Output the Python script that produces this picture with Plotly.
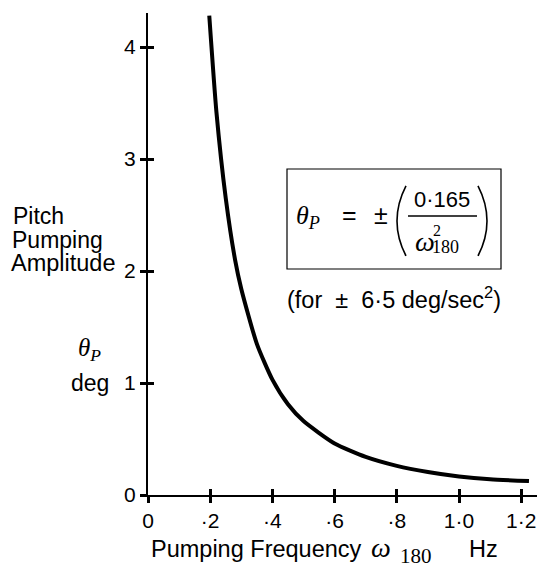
import plotly.graph_objects as go

# Data
freq_hz = [0.197, 0.22, 0.25, 0.28, 0.30, 0.35, 0.40, 0.45, 0.50, 0.60, 0.70, 0.80, 0.90, 1.00, 1.10, 1.225]
amplitude_deg = [4.28, 3.42, 2.65, 2.10, 1.84, 1.35, 1.03, 0.81, 0.66, 0.46, 0.34, 0.26, 0.205, 0.165, 0.14, 0.125]

x_tick_vals = [0, 0.2, 0.4, 0.6, 0.8, 1.0, 1.2]
x_tick_text = ["0", "·2", "·4", "·6", "·8", "1·0", "1·2"]
y_tick_vals = [0, 1, 2, 3, 4]
y_tick_text = ["0", "1", "2", "3", "4"]

# layout geometry (pixels)
W, H = 537, 571
L, R, T, B = 148, 0, 13, 76
PW, PH = W - L - R, H - T - B
XMAX = PW / 311.0
YMAX = PH / 112.0

SANS = "Liberation Sans, Arial, Helvetica, sans-serif"
SERIF = "Liberation Serif, Times New Roman, serif"

def fx(x):
    return (x - L) / PW

def fy(y):
    return (H - B - y) / PH

fig = go.Figure()
fig.add_trace(go.Scatter(x=freq_hz, y=amplitude_deg, mode="lines",
                         line=dict(color="black", width=4, shape="spline", smoothing=0.6),
                         hoverinfo="skip", showlegend=False))
# dummy trace for the overlay axes (inner half of tick marks)
fig.add_trace(go.Scatter(x=[None], y=[None], xaxis="x2", yaxis="y2", showlegend=False))

axis_common = dict(showgrid=False, zeroline=False, showline=True, linecolor="black",
                   linewidth=2, ticks="outside", ticklen=6, tickwidth=3, tickcolor="black",
                   tickfont=dict(family=SANS, size=21, color="black"))

fig.update_layout(
    width=W, height=H,
    margin=dict(l=L, r=R, t=T, b=B),
    paper_bgcolor="white", plot_bgcolor="white",
    xaxis=dict(range=[0, XMAX], tickvals=x_tick_vals, ticktext=x_tick_text, **axis_common),
    yaxis=dict(range=[0, YMAX], tickvals=y_tick_vals, ticktext=y_tick_text, **axis_common),
    xaxis2=dict(range=[0, XMAX], overlaying="x", tickvals=x_tick_vals, showticklabels=False,
                ticks="inside", ticklen=6, tickwidth=3, tickcolor="black",
                showgrid=False, zeroline=False, showline=False),
    yaxis2=dict(range=[0, YMAX], overlaying="y", tickvals=y_tick_vals, showticklabels=False,
                ticks="inside", ticklen=6, tickwidth=3, tickcolor="black",
                showgrid=False, zeroline=False, showline=False),
    showlegend=False,
)

ann = []
def text(x, y, s, size=23, family=SANS, xanchor="center", yanchor="middle"):
    ann.append(dict(xref="paper", yref="paper", x=fx(x), y=fy(y), text=s, showarrow=False,
                    font=dict(family=family, size=size, color="black"),
                    xanchor=xanchor, yanchor=yanchor, borderpad=0, borderwidth=0))

# y-axis title block
text(13, 216, "Pitch", xanchor="left")
text(12, 240, "Pumping", xanchor="left")
text(11, 263, "Amplitude", size=23.5, xanchor="left")
text(89, 349, "<i>θ<sub>P</sub></i>", size=25, family=SERIF)
text(90, 383, "deg")

# x-axis title
text(151, 549, "Pumping Frequency", size=23.5, xanchor="left")
text(371, 547, "<i>ω</i>", size=28, family=SERIF, xanchor="left")
text(400, 556, "180", size=21, family=SERIF, xanchor="left")
text(469, 549, "Hz", size=23.5, xanchor="left")

# formula box contents
text(296, 217, "<i>θ<sub>P</sub></i>", size=26, family=SERIF, xanchor="left")
text(349, 215, "=", size=25, family=SANS)
text(381, 215, "±", size=25, family=SANS)
text(442, 200, "0·165", size=22)
text(415, 241, "<i>ω</i>", size=28, family=SERIF, xanchor="left")
text(433, 239, "2", size=16, family=SERIF, xanchor="left", yanchor="bottom")
text(432, 237, "180", size=18, family=SERIF, xanchor="left", yanchor="top")

# annotation below box
text(394, 298, "(for  ±  6·5 deg/sec<sup>2</sup>)", size=23.5)

fig.update_layout(annotations=ann)

def path_paper(points):
    (x0, y0), (cx, cy), (x1, y1) = points
    return "M {:.4f},{:.4f} Q {:.4f},{:.4f} {:.4f},{:.4f}".format(
        fx(x0), fy(y0), fx(cx), fy(cy), fx(x1), fy(y1))

shapes = [
    dict(type="rect", xref="paper", yref="paper", x0=fx(287), x1=fx(501),
         y0=fy(269), y1=fy(169), line=dict(color="black", width=1.2)),
    dict(type="line", xref="paper", yref="paper", x0=fx(408), x1=fx(477),
         y0=fy(216), y1=fy(216), line=dict(color="black", width=1.5)),
    dict(type="path", xref="paper", yref="paper",
         path=path_paper([(406, 186), (388, 221), (406, 256)]),
         line=dict(color="black", width=1.6)),
    dict(type="path", xref="paper", yref="paper",
         path=path_paper([(478, 186), (496, 221), (478, 256)]),
         line=dict(color="black", width=1.6)),
]
fig.update_layout(shapes=shapes)

fig.write_html("out.html")
